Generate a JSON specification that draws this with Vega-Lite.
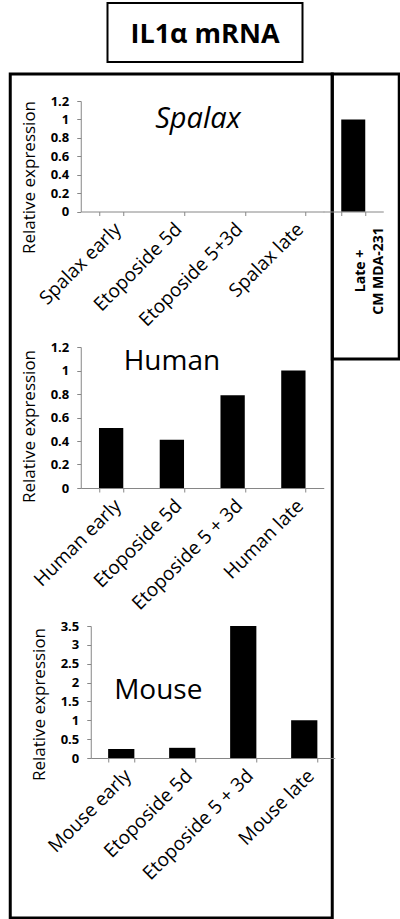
{
  "$schema": "https://vega.github.io/schema/vega-lite/v6.json",
  "padding": {"left": 8, "top": 2, "right": 0, "bottom": 0},
  "config": {
    "font": "Open Sans",
    "view": {"stroke": "black", "strokeWidth": 3},
    "axis": {"domainColor": "#868686", "tickColor": "#868686", "grid": false, "labelColor": "black", "titleColor": "black", "labelFont": "Open Sans", "titleFont": "Open Sans", "tickSize": 4},
    "bar": {"color": "black"}
  },
  "datasets": {
    "bars": [
      {"panel": "Spalax", "group": "Spalax early", "value": 0},
      {"panel": "Spalax", "group": "Etoposide 5d", "value": 0},
      {"panel": "Spalax", "group": "Etoposide 5+3d", "value": 0},
      {"panel": "Spalax", "group": "Spalax late", "value": 0},
      {"panel": "Human", "group": "Human  early", "value": 0.51},
      {"panel": "Human", "group": "Etoposide 5d", "value": 0.41},
      {"panel": "Human", "group": "Etoposide 5 + 3d", "value": 0.79},
      {"panel": "Human", "group": "Human late", "value": 1.0},
      {"panel": "Mouse", "group": "Mouse early", "value": 0.24},
      {"panel": "Mouse", "group": "Etoposide 5d", "value": 0.27},
      {"panel": "Mouse", "group": "Etoposide 5 + 3d", "value": 3.5},
      {"panel": "Mouse", "group": "Mouse late", "value": 1.0}
    ],
    "side": [
      {"group": "Late + CM MDA-231", "value": 1.0}
    ],
    "titles": [
      {"panel": "Spalax", "label": "Spalax"},
      {"panel": "Human", "label": "Human"},
      {"panel": "Mouse", "label": "Mouse"}
    ]
  },
  "center": true,
  "spacing": 9,
  "vconcat": [
    {
      "width": 195,
      "height": 59,
      "view": {"stroke": "black", "strokeWidth": 2},
      "data": {"values": [{"t": "IL1α mRNA"}]},
      "mark": {"type": "text", "fontSize": 27, "fontWeight": "bold", "font": "Open Sans", "baseline": "middle", "dy": 2},
      "encoding": {"text": {"field": "t", "type": "nominal"}}
    },
    {
      "spacing": 0,
      "bounds": "flush",
      "hconcat": [
        {
          "width": 322,
          "height": 844,
          "resolve": {"scale": {"x": "independent", "y": "independent"}, "axis": {"x": "independent", "y": "independent"}},
          "layer": [
            {
              "data": {"name": "bars"},
              "transform": [{"filter": "datum.panel === 'Spalax'"}],
              "mark": {"type": "bar"},
              "encoding": {
                "x": {"field": "group", "type": "nominal",
                  "scale": {"domain": ["Spalax early", "Etoposide 5d", "Etoposide 5+3d", "Spalax late"], "range": [70.5, 313.5], "paddingInner": 0.6, "paddingOuter": 0.3},
                  "axis": {"orient": "bottom", "offset": -706.5, "title": null, "labelAngle": -45, "labelFontSize": 19, "labelPadding": 4, "tickBand": "extent", "labelOverlap": false, "labelBound": false}},
                "y": {"field": "value", "type": "quantitative",
                  "scale": {"domain": [0, 1.2], "range": [137.5, 27], "nice": false},
                  "axis": {"orient": "left", "offset": -70.5, "title": "Relative expression", "values": [0, 0.2, 0.4, 0.6, 0.8, 1, 1.2], "format": "~g", "labelFontWeight": "bold", "labelFontSize": 13, "labelPadding": 8, "titleFontSize": 17, "titleFontWeight": "normal", "titlePadding": 12, "titleY": 103}}
              }
            },
            {
              "data": {"name": "titles"},
              "transform": [{"filter": "datum.panel === 'Spalax'"}],
              "mark": {"type": "text", "fontSize": 29, "fontStyle": "italic", "baseline": "middle", "dx": 26},
              "encoding": {
                "x": {"datum": "Etoposide 5d", "type": "nominal", "axis": null,
                  "scale": {"type": "point", "domain": ["Spalax early", "Etoposide 5d", "Etoposide 5+3d", "Spalax late"], "range": [70.5, 313.5], "padding": 0.5}},
                "y": {"datum": 1.0, "type": "quantitative", "axis": null,
                  "scale": {"domain": [0, 1.2], "range": [137.5, 27], "nice": false}},
                "text": {"field": "label", "type": "nominal"}
              }
            },
            {
              "data": {"name": "bars"},
              "transform": [{"filter": "datum.panel === 'Human'"}],
              "mark": {"type": "bar"},
              "encoding": {
                "x": {"field": "group", "type": "nominal",
                  "scale": {"domain": ["Human  early", "Etoposide 5d", "Etoposide 5 + 3d", "Human late"], "range": [70.5, 313.5], "paddingInner": 0.6, "paddingOuter": 0.3},
                  "axis": {"orient": "bottom", "offset": -430, "title": null, "labelAngle": -45, "labelFontSize": 19, "labelPadding": 4, "tickBand": "extent", "labelOverlap": false, "labelBound": false}},
                "y": {"field": "value", "type": "quantitative",
                  "scale": {"domain": [0, 1.2], "range": [414, 273], "nice": false},
                  "axis": {"orient": "left", "offset": -70.5, "title": "Relative expression", "values": [0, 0.2, 0.4, 0.6, 0.8, 1, 1.2], "format": "~g", "labelFontWeight": "bold", "labelFontSize": 13, "labelPadding": 8, "titleFontSize": 17, "titleFontWeight": "normal", "titlePadding": 12, "titleY": 352}}
              }
            },
            {
              "data": {"name": "titles"},
              "transform": [{"filter": "datum.panel === 'Human'"}],
              "mark": {"type": "text", "fontSize": 28, "baseline": "middle"},
              "encoding": {
                "x": {"datum": "Etoposide 5d", "type": "nominal", "axis": null,
                  "scale": {"type": "point", "domain": ["Human  early", "Etoposide 5d", "Etoposide 5 + 3d", "Human late"], "range": [70.5, 313.5], "padding": 0.5}},
                "y": {"datum": 1.07, "type": "quantitative", "axis": null,
                  "scale": {"domain": [0, 1.2], "range": [414, 273], "nice": false}},
                "text": {"field": "label", "type": "nominal"}
              }
            },
            {
              "data": {"name": "bars"},
              "transform": [{"filter": "datum.panel === 'Mouse'"}],
              "mark": {"type": "bar"},
              "encoding": {
                "x": {"field": "group", "type": "nominal",
                  "scale": {"domain": ["Mouse early", "Etoposide 5d", "Etoposide 5 + 3d", "Mouse late"], "range": [80.5, 324.5], "paddingInner": 0.57, "paddingOuter": 0.285},
                  "axis": {"orient": "bottom", "offset": -160, "title": null, "labelAngle": -45, "labelFontSize": 19, "labelPadding": 4, "tickBand": "extent", "labelOverlap": false, "labelBound": false}},
                "y": {"field": "value", "type": "quantitative",
                  "scale": {"domain": [0, 3.5], "range": [684, 552], "nice": false},
                  "axis": {"orient": "left", "offset": -80.5, "title": "Relative expression", "values": [0, 0.5, 1, 1.5, 2, 2.5, 3, 3.5], "format": "~g", "labelFontWeight": "bold", "labelFontSize": 13, "labelPadding": 8, "titleFontSize": 17, "titleFontWeight": "normal", "titlePadding": 12, "titleY": 630}}
              }
            },
            {
              "data": {"name": "titles"},
              "transform": [{"filter": "datum.panel === 'Mouse'"}],
              "mark": {"type": "text", "fontSize": 28, "baseline": "middle", "dx": -24},
              "encoding": {
                "x": {"datum": "Etoposide 5d", "type": "nominal", "axis": null,
                  "scale": {"type": "point", "domain": ["Mouse early", "Etoposide 5d", "Etoposide 5 + 3d", "Mouse late"], "range": [80.5, 324.5], "padding": 0.5}},
                "y": {"datum": 1.78, "type": "quantitative", "axis": null,
                  "scale": {"domain": [0, 3.5], "range": [684, 552], "nice": false}},
                "text": {"field": "label", "type": "nominal"}
              }
            }
          ]
        },
        {
          "width": 67,
          "height": 285,
          "data": {"name": "side"},
          "mark": {"type": "bar"},
          "encoding": {
            "x": {"field": "group", "type": "nominal",
              "scale": {"range": [-9, 51], "paddingInner": 0.6, "paddingOuter": 0.3},
              "axis": {"orient": "bottom", "offset": -147.5, "title": null, "labelAngle": -90, "labelAlign": "center", "labelBaseline": "middle", "labelPadding": 55, "labelOffset": 7, "labelFontWeight": "bold", "labelFontSize": 14, "labelLineHeight": 18, "labelExpr": "datum.label ? ['Late +', 'CM MDA-231'] : ''", "tickBand": "extent", "labelOverlap": false, "labelBound": false}},
            "y": {"field": "value", "type": "quantitative",
              "scale": {"domain": [0, 1.2], "range": [137.5, 27], "nice": false},
              "axis": null}
          }
        }
      ]
    }
  ]
}
